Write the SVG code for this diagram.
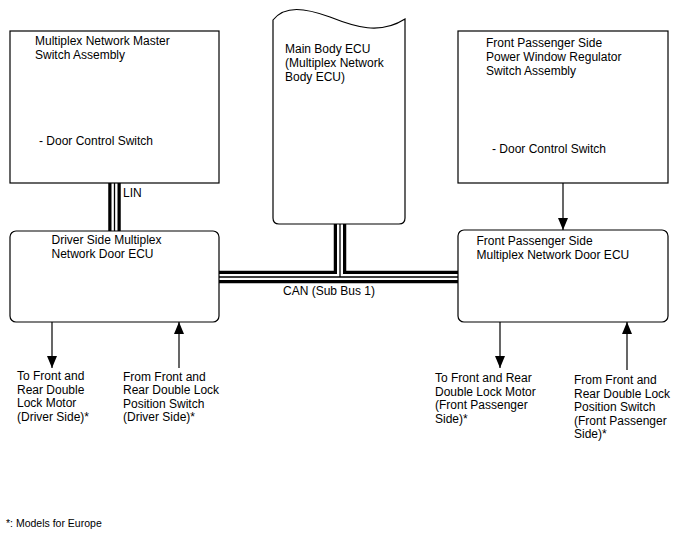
<svg xmlns="http://www.w3.org/2000/svg" width="688" height="560" viewBox="0 0 688 560">
<style>
  .box { fill: #fff; stroke: #000; stroke-width: 1.2; }
  text { font-family: "Liberation Sans", Arial, sans-serif; font-size: 12px; fill: #000; }
  .foot { font-size: 10.5px; }
  .cab1 { fill: none; stroke: #000; stroke-width: 12.5; }
  .cab2 { fill: none; stroke: #fff; stroke-width: 6; }
  .cab3 { fill: none; stroke: #000; stroke-width: 1.3; }
  .arr { fill: none; stroke: #000; stroke-width: 1.2; marker-end: url(#ah); }
</style>
<defs>
  <marker id="ah" viewBox="0 0 12 10" refX="12" refY="5" markerWidth="12" markerHeight="10" markerUnits="userSpaceOnUse" orient="auto">
    <path d="M0,0 L12,5 L0,10 Z" fill="#000"/>
  </marker>
</defs>
<rect width="688" height="560" fill="#fff"/>

<g id="connectors">
  <g id="cables">
    <path class="cab1" d="M219,277 L458,277 M340,224 L340,277 M114.5,183 L114.5,231"/>
    <path class="cab2" d="M219,277 L458,277 M340,224 L340,277 M114.5,183 L114.5,231"/>
    <path class="cab3" d="M219,277 L458,277 M340,224 L340,277 M114.5,183 L114.5,231"/>
  </g>
  <text x="123" y="197">LIN</text>
  <text x="283" y="295">CAN (Sub Bus 1)</text>
  <path class="arr" d="M563,183 L563,230"/>
  <path class="arr" d="M52,322 L52,368"/>
  <path class="arr" d="M179,368 L179,322"/>
  <path class="arr" d="M500,322 L500,368"/>
  <path class="arr" d="M627,370 L627,322"/>
</g>

<g id="master-switch">
  <rect class="box" x="10" y="31" width="209" height="152"/>
  <text x="35" y="45">Multiplex Network Master</text>
  <text x="35" y="58.5">Switch Assembly</text>
  <text x="39" y="145">- Door Control Switch</text>
</g>

<g id="main-body-ecu">
  <path class="box" d="M273,20 C285,5 305,8 330,17 C355,27 380,35 405,19 L405,218 Q405,224 399,224 L279,224 Q273,224 273,218 Z"/>
  <text x="285" y="52.5">Main Body ECU</text>
  <text x="285" y="66.5">(Multiplex Network</text>
  <text x="285" y="80.5">Body ECU)</text>
</g>

<g id="passenger-switch">
  <rect class="box" x="458" y="31" width="210" height="152"/>
  <text x="486" y="46.5">Front Passenger Side</text>
  <text x="486" y="60.5">Power Window Regulator</text>
  <text x="486" y="74.5">Switch Assembly</text>
  <text x="492" y="152.5">- Door Control Switch</text>
</g>

<g id="driver-ecu">
  <rect class="box" x="10" y="231" width="209" height="91" rx="6"/>
  <text x="51.5" y="244">Driver Side Multiplex</text>
  <text x="51.5" y="258">Network Door ECU</text>
</g>

<g id="passenger-ecu">
  <rect class="box" x="458" y="230" width="210" height="92" rx="6"/>
  <text x="476.5" y="245">Front Passenger Side</text>
  <text x="476.5" y="259">Multiplex Network Door ECU</text>
</g>

<g id="label-driver-motor">
  <text x="17" y="380">To Front and</text>
  <text x="17" y="393.5">Rear Double</text>
  <text x="17" y="407">Lock Motor</text>
  <text x="17" y="420.5">(Driver Side)*</text>
</g>

<g id="label-driver-switch">
  <text x="123" y="380.5">From Front and</text>
  <text x="123" y="394">Rear Double Lock</text>
  <text x="123" y="407.5">Position Switch</text>
  <text x="123" y="421">(Driver Side)*</text>
</g>

<g id="label-passenger-motor">
  <text x="435" y="382">To Front and Rear</text>
  <text x="435" y="395.5">Double Lock Motor</text>
  <text x="435" y="409">(Front Passenger</text>
  <text x="435" y="422.5">Side)*</text>
</g>

<g id="label-passenger-switch">
  <text x="574" y="384">From Front and</text>
  <text x="574" y="397.5">Rear Double Lock</text>
  <text x="574" y="411">Position Switch</text>
  <text x="574" y="424.5">(Front Passenger</text>
  <text x="574" y="438">Side)*</text>
</g>

<text class="foot" x="6" y="527">*: Models for Europe</text>
</svg>
